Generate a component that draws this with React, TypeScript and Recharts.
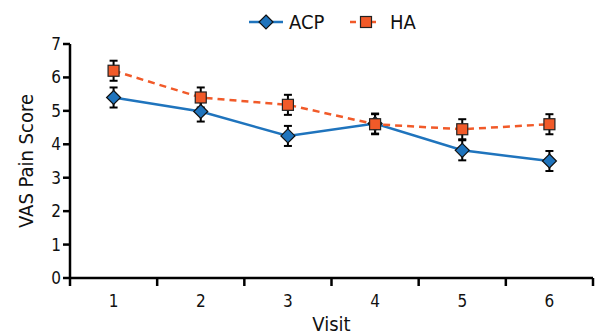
import React from 'react';
import {
  ComposedChart,
  Line,
  XAxis,
  YAxis,
  ErrorBar,
  Legend,
} from 'recharts';

const visits = [1, 2, 3, 4, 5, 6];
const acpScores = [5.4, 4.98, 4.25, 4.62, 3.82, 3.5];
const acpErrors = [0.3, 0.3, 0.3, 0.3, 0.3, 0.3];
const haScores = [6.2, 5.4, 5.18, 4.6, 4.45, 4.6];
const haErrors = [0.3, 0.3, 0.3, 0.3, 0.3, 0.3];
const yTicks = [0, 1, 2, 3, 4, 5, 6, 7];
const xTicks = [0.5, 1, 1.5, 2, 2.5, 3, 3.5, 4, 4.5, 5, 5.5, 6, 6.5];

const BLUE = '#1f74bd';
const ORANGE = '#f15a29';
const FONT = "'DejaVu Sans Condensed', 'Liberation Sans Narrow', 'Roboto', sans-serif";

const data = visits.map((v, i) => ({
  visit: v,
  acp: acpScores[i],
  acpErr: acpErrors[i],
  ha: haScores[i],
  haErr: haErrors[i],
}));

const Diamond = ({ cx, cy }: any) => {
  if (cx == null || cy == null) return null;
  const r = 7;
  return (
    <path
      d={`M${cx},${cy - r}L${cx + r},${cy}L${cx},${cy + r}L${cx - r},${cy}Z`}
      fill={BLUE}
      stroke="#111"
      strokeWidth={1.2}
    />
  );
};

const Square = ({ cx, cy }: any) => {
  if (cx == null || cy == null) return null;
  const s = 5.5;
  return (
    <rect x={cx - s} y={cy - s} width={s * 2} height={s * 2} fill={ORANGE} stroke="#222" strokeWidth={1.2} />
  );
};

const XTick = ({ x, y, payload }: any) => {
  const v = payload.value;
  if (Number.isInteger(v)) {
    return (
      <text x={x} y={y + 29} textAnchor="middle" fontSize={17} fill="#111" fontFamily={FONT}>
        {v}
      </text>
    );
  }
  return <line x1={x} x2={x} y1={y} y2={y + 8} stroke="#000" strokeWidth={2.5} />;
};

const LegendContent = () => (
  <svg width={597} height={28} style={{ display: 'block' }}>
    <line x1={249} x2={283} y1={14} y2={14} stroke={BLUE} strokeWidth={2.5} />
    <Diamond cx={266} cy={14} />
    <text x={289} y={21} fontSize={20} fill="#111" fontFamily={FONT}>ACP</text>
    <line x1={350} x2={380} y1={14} y2={14} stroke={ORANGE} strokeWidth={2.5} strokeDasharray="6 4" />
    <Square cx={366} cy={14} />
    <text x={390} y={21} fontSize={20} fill="#111" fontFamily={FONT}>HA</text>
  </svg>
);

export default function App() {
  return (
    <div style={{ position: 'absolute', left: 0, top: 0, width: 597, height: 335, background: '#fff' }}>
      <ComposedChart
        width={597}
        height={335}
        data={data}
        margin={{ top: 16, right: 4, bottom: 0, left: 0 }}
        style={{ fontFamily: FONT }}
      >
        <Legend
          verticalAlign="top"
          align="center"
          content={<LegendContent />}
          wrapperStyle={{ top: 8, left: 0, width: 597 }}
        />
        <XAxis
          dataKey="visit"
          type="number"
          domain={[0.5, 6.5]}
          ticks={xTicks}
          interval={0}
          tickLine={false}
          tickSize={0}
          tickMargin={0}
          tick={<XTick />}
          axisLine={{ stroke: '#000', strokeWidth: 2.5 }}
          height={57}
          label={{ value: 'Visit', position: 'insideBottom', offset: 4, fontSize: 20, fill: '#111', fontFamily: FONT }}
        />
        <YAxis
          type="number"
          domain={[0, 7]}
          ticks={yTicks}
          interval={0}
          width={70}
          tickSize={7}
          tick={{ fontSize: 17, fill: '#111', fontFamily: FONT }}
          tickLine={{ stroke: '#000', strokeWidth: 2.5 }}
          axisLine={{ stroke: '#000', strokeWidth: 2.5 }}
          label={{
            value: 'VAS Pain Score',
            angle: -90,
            position: 'insideLeft',
            offset: 26,
            textAnchor: 'middle',
            fontSize: 20,
            fill: '#111',
            fontFamily: FONT,
          }}
        />
        <Line
          dataKey="acp"
          stroke={BLUE}
          strokeWidth={2.5}
          dot={<Diamond />}
          activeDot={false}
          isAnimationActive={false}
        >
          <ErrorBar dataKey="acpErr" width={4} stroke="#000" strokeWidth={2} isAnimationActive={false} />
        </Line>
        <Line
          dataKey="ha"
          stroke={ORANGE}
          strokeWidth={2.5}
          strokeDasharray="7 5"
          dot={<Square />}
          activeDot={false}
          isAnimationActive={false}
        >
          <ErrorBar dataKey="haErr" width={4} stroke="#000" strokeWidth={2} isAnimationActive={false} />
        </Line>
      </ComposedChart>
    </div>
  );
}
